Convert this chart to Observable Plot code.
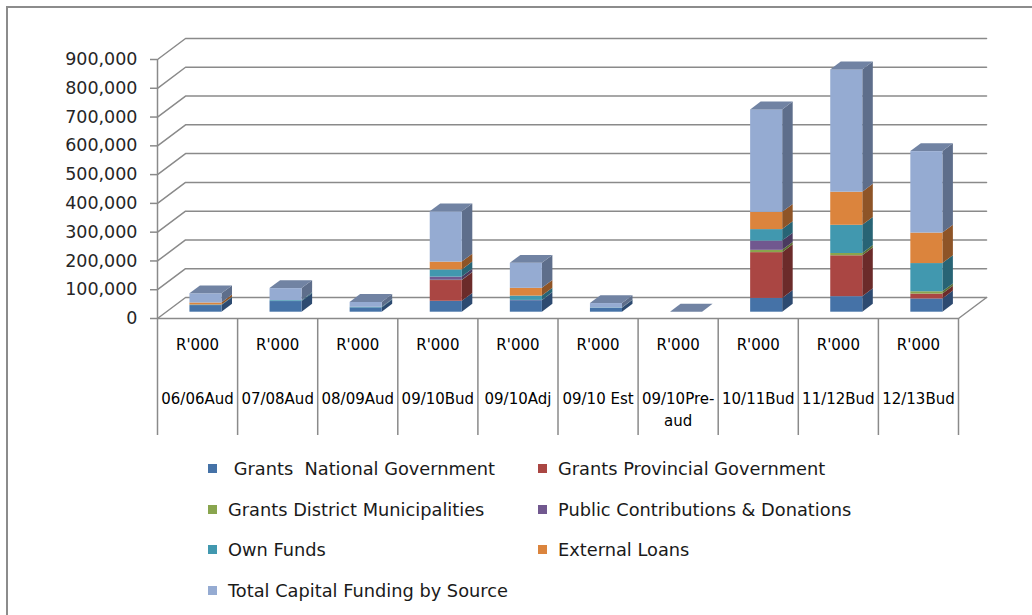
<!DOCTYPE html>
<html>
<head>
<meta charset="utf-8">
<script src="https://cdn.jsdelivr.net/npm/d3@7"></script>
<script src="https://cdn.jsdelivr.net/npm/@observablehq/plot@0.6"></script>
<style>
  html, body { margin: 0; padding: 0; background: #fff; overflow: hidden; }
  #page { position: relative; width: 1032px; height: 615px; }
  #frame { position: absolute; left: 6px; top: 6px; width: 1100px; height: 700px;
           border-left: 2px solid #8c8c8c; border-top: 2px solid #8c8c8c; }
  #chart { position: absolute; left: 0; top: 0; }
  #legend { position: absolute; left: 208px; top: 448px; display: grid;
            grid-template-columns: 330px 330px; grid-auto-rows: 40.7px;
            font-family: "DejaVu Sans", sans-serif; font-size: 17.8px; color: #1a1a1a; }
  #legend .item { display: flex; align-items: center; white-space: pre; }
  #legend .sw { width: 9px; height: 9px; margin-right: 11px; flex: none; }
</style>
</head>
<body>
<div id="page">
  <div id="frame"></div>
  <div id="chart"></div>
  <div id="legend"></div>
</div>
<script>
// Capital funding by source, R'000
const categories = ["06/06Aud", "07/08Aud", "08/09Aud", "09/10Bud", "09/10Adj",
                    "09/10 Est", "09/10Pre-\naud", "10/11Bud", "11/12Bud", "12/13Bud"];
const unitLabels = ["R'000", "R'000", "R'000", "R'000", "R'000",
                    "R'000", "R'000", "R'000", "R'000", "R'000"];

const seriesNames = [" Grants  National Government", "Grants Provincial Government",
                     "Grants District Municipalities", "Public Contributions & Donations",
                     "Own Funds", "External Loans", "Total Capital Funding by Source"];

const nationalGov   = [23000, 37000, 15000, 38000, 40000, 14000, 0,  48000,  54000,  46000];
const provincialGov = [    0,     0,     0, 72000,     0,     0, 0, 159000, 142000,  17000];
const districtMun   = [    0,     0,     0,  1000,     0,     0, 0,   8000,   8000,   8000];
const publicDonat   = [    0,     0,     0, 11000,  1000,     0, 0,  32000,      0,      0];
const ownFunds      = [ 2000,  3000,  2000, 25000, 15000,  1000, 0,  40000,  98000,  98000];
const externalLoans = [ 7000,     0,     0, 27000, 27000,     0, 0,  60000, 115000, 106000];
const totalFunding  = [32000, 42000, 17000, 175000, 87000, 15000, 0, 356000, 425000, 283000];

const yTicks = [0, 100000, 200000, 300000, 400000, 500000, 600000, 700000, 800000, 900000];

const frontColors = ["#4572a7", "#aa4643", "#89a54e", "#71588f", "#4198af", "#db843d", "#95abd2"];
const sideColors  = ["#2d4a70", "#6b2b2a", "#5a6e31", "#4a3a5f", "#286475", "#8e5427", "#5e6e8b"];
const topColor    = "#7183a3";

const seriesValues = [nationalGov, provincialGov, districtMun, publicDonat,
                      ownFunds, externalLoans, totalFunding];

// Oblique projection: depth z in [0, 1] shifts right by DX (category units)
// and up by DY (value units). Bars occupy a slab of the depth.
const DX = 0.35, DY = 73000;
const Z0 = 0.3, Z1 = 0.675;
const HALF = 0.2;
const N = categories.length;

// stacked segments per category
const segments = [];
const stackTops = [];
categories.forEach((c, i) => {
  let base = 0;
  seriesValues.forEach((vals, s) => {
    const v = vals[i];
    segments.push({i, s, lo: base, hi: base + v, xl: i + 0.5 - HALF, xr: i + 0.5 + HALF});
    base += v;
  });
  stackTops.push({i, top: base, xl: i + 0.5 - HALF, xr: i + 0.5 + HALF});
});
const visible = segments.filter(d => d.hi > d.lo);

const fronts = visible.map(d => ({
  x1: d.xl + Z0 * DX, x2: d.xr + Z0 * DX,
  y1: d.lo + Z0 * DY, y2: d.hi + Z0 * DY, fill: frontColors[d.s]
}));
const sides = visible.flatMap((d, k) => [Z0, Z1].map(z => ({
  id: k, x: d.xr + z * DX, y1: d.lo + z * DY, y2: d.hi + z * DY, fill: sideColors[d.s]
})));
const tops = stackTops.flatMap(d => [Z0, Z1].map(z => ({
  id: d.i, y: d.top + z * DY, x1: d.xl + z * DX, x2: d.xr + z * DX, fill: topColor
})));

// walls: side-wall diagonals and back-wall gridlines
const grid = yTicks.flatMap(v => [
  {g: v, x: 0, y: v}, {g: v, x: DX, y: v + DY}, {g: v, x: N + DX, y: v + DY}
]);
const floorEdge = [{x: 0, y: 0}, {x: N, y: 0}, {x: N + DX, y: DY}];

const gridColor = "#8a8a8a";

const chart = Plot.plot({
  width: 1032,
  height: 440,
  marginLeft: 157,
  marginRight: 74,
  marginTop: 59,
  marginBottom: 122,
  style: {background: "transparent", fontFamily: "DejaVu Sans, sans-serif"},
  x: {domain: [0, N]},
  y: {domain: [0, 900000]},
  color: {type: "identity"},
  marks: [
    Plot.line(grid, {x: "x", y: "y", z: "g", stroke: gridColor, strokeWidth: 1.5}),
    Plot.line(floorEdge, {x: "x", y: "y", stroke: gridColor, strokeWidth: 1.5}),
    Plot.ruleX([0], {y1: 0, y2: 900000, stroke: gridColor, strokeWidth: 1.5}),
    Plot.axisY({ticks: yTicks, tickFormat: d3.format(","), tickSize: 7, tickPadding: 13,
                fontSize: 17.5, fontFamily: "DejaVu Sans, sans-serif",
                stroke: gridColor, strokeWidth: 1.5, fill: "#262626", label: null}),
    // table cell borders under the floor
    Plot.axisX({ticks: d3.range(N + 1), tickSize: 117, tickFormat: () => "",
                stroke: gridColor, strokeWidth: 1.5, label: null}),
    Plot.text(unitLabels, {x: (d, i) => i + 0.5, text: d => d, frameAnchor: "bottom",
                dy: 31, fontSize: 15, fill: "#000"}),
    Plot.text(categories, {x: (d, i) => i + 0.5, text: d => d, frameAnchor: "bottom",
                lineAnchor: "top", dy: 70, lineHeight: 1.45, fontSize: 15, fill: "#000"}),
    // bars: side faces, front faces, top faces
    Plot.areaY(sides, {x: "x", y1: "y1", y2: "y2", z: "id", fill: "fill"}),
    Plot.rect(fronts, {x1: "x1", x2: "x2", y1: "y1", y2: "y2", fill: "fill"}),
    Plot.areaX(tops, {y: "y", x1: "x1", x2: "x2", z: "id", fill: "fill"})
  ]
});
document.getElementById("chart").appendChild(chart);

// legend, two columns, row-major
const legend = document.getElementById("legend");
seriesNames.forEach((name, s) => {
  const item = document.createElement("div");
  item.className = "item";
  const sw = document.createElement("span");
  sw.className = "sw";
  sw.style.background = frontColors[s];
  const label = document.createElement("span");
  label.textContent = name;
  item.appendChild(sw);
  item.appendChild(label);
  legend.appendChild(item);
});
</script>
</body>
</html>
